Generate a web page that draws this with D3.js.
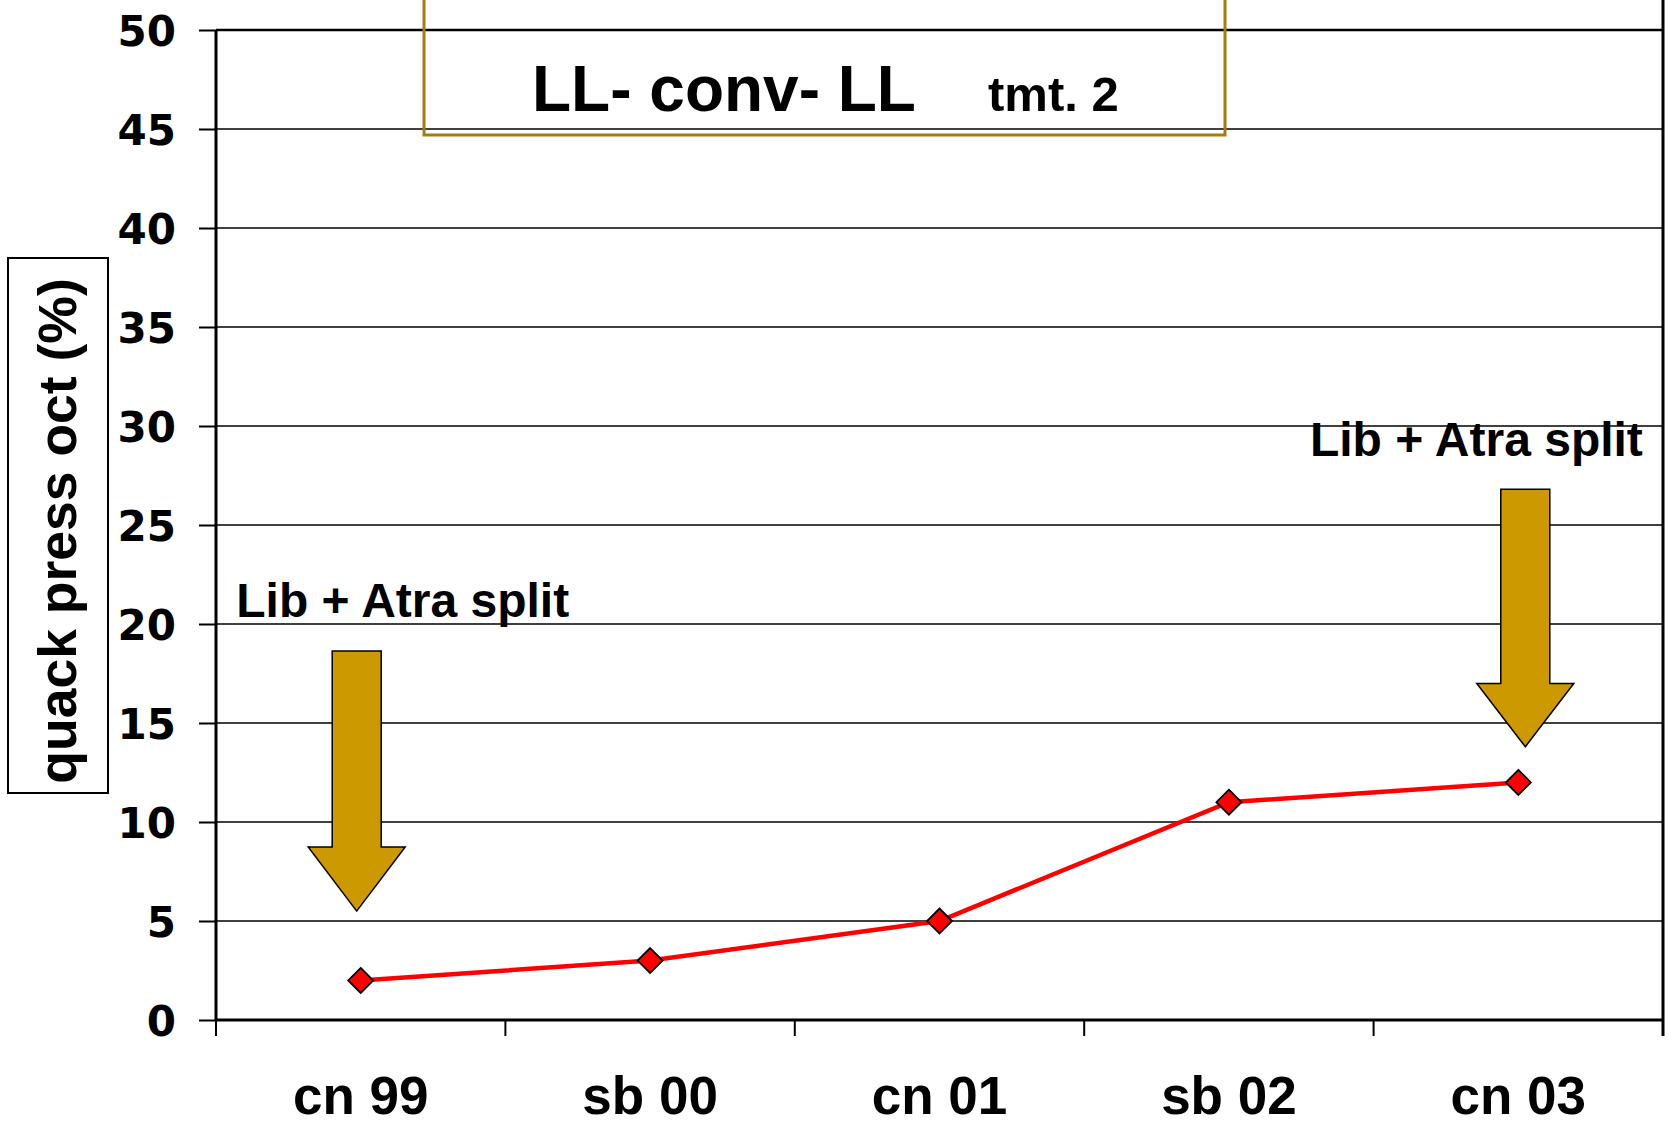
<!DOCTYPE html>
<html>
<head>
<meta charset="utf-8">
<script src="https://cdn.jsdelivr.net/npm/d3@7"></script>
<style>
  html, body { margin: 0; padding: 0; background: #fff; overflow: hidden; }
  svg { display: block; }
</style>
</head>
<body>
<svg id="chart" width="1669" height="1124"></svg>
<script>
// ---- data ----
const categories = ["cn 99", "sb 00", "cn 01", "sb 02", "cn 03"];
const values = [2, 3, 5, 11, 12];
const yTicks = [0, 5, 10, 15, 20, 25, 30, 35, 40, 45, 50];
const yLabel = "quack press oct (%)";
const titleMain = "LL- conv- LL";
const titleSub = "tmt. 2";
const annotations = [
  { cat: "cn 99", text: "Lib + Atra split", textY: 20.35, textX: -0.43, top: 18.64, headStart: 8.74, tip: 5.5 },
  { cat: "cn 03", text: "Lib + Atra split", textY: 28.48, textX: -0.72, top: 26.8, headStart: 17.0, tip: 13.8 }
];

// ---- layout ----
const W = 1669, H = 1124;
const plot = { left: 216, right: 1663, top: 30, bottom: 1020 };
const svg = d3.select("#chart");
const font = "'Liberation Sans', Arial, Helvetica, sans-serif";

const x = d3.scaleBand().domain(categories).range([plot.left, plot.right]).padding(0);
const y = d3.scaleLinear().domain([0, 50]).range([plot.bottom, plot.top]);

// gridlines
svg.append("g").selectAll("line").data(yTicks.filter(d => d > 0)).join("line")
  .attr("x1", plot.left).attr("x2", plot.right)
  .attr("y1", d => y(d)).attr("y2", d => y(d))
  .attr("stroke", "#000").attr("stroke-width", d => d === 50 ? 2.5 : 1.6);

// y axis
const yAxis = svg.append("g").attr("transform", `translate(${plot.left},0)`)
  .call(d3.axisLeft(y).tickValues(yTicks).tickSize(17).tickPadding(23).tickFormat(d3.format("d")));
yAxis.select(".domain").attr("stroke", "#000").attr("stroke-width", 3).attr("d", `M0,${plot.top}V${plot.bottom}`);
yAxis.selectAll(".tick line").attr("stroke", "#000").attr("stroke-width", 2);
yAxis.selectAll(".tick text")
  .attr("fill", "#000")
  .style("font-family", "'DejaVu Sans', Verdana, sans-serif")
  .style("font-weight", "bold")
  .style("font-size", "42px")
  .attr("dy", "0.36em");

// x axis (ticks at band boundaries)
const bounds = categories.map(c => x(c)).concat([plot.right]);
svg.append("g").selectAll("line").data(bounds).join("line")
  .attr("x1", d => d).attr("x2", d => d)
  .attr("y1", plot.bottom).attr("y2", plot.bottom + 16)
  .attr("stroke", "#000").attr("stroke-width", 2);
svg.append("line")
  .attr("x1", plot.left - 1).attr("x2", plot.right + 1)
  .attr("y1", plot.bottom).attr("y2", plot.bottom)
  .attr("stroke", "#000").attr("stroke-width", 3);
// right border
svg.append("line")
  .attr("x1", plot.right).attr("x2", plot.right)
  .attr("y1", plot.top - 30).attr("y2", plot.bottom + 16)
  .attr("stroke", "#000").attr("stroke-width", 3);

svg.append("g").selectAll("text").data(categories).join("text")
  .attr("x", d => x(d) + x.bandwidth() / 2)
  .attr("y", 1114)
  .attr("text-anchor", "middle")
  .style("font-family", font).style("font-weight", "bold").style("font-size", "53px")
  .text(d => d);

// y label box
svg.append("rect").attr("x", 8).attr("y", 258).attr("width", 100).attr("height", 535)
  .attr("fill", "#fff").attr("stroke", "#000").attr("stroke-width", 2);
svg.append("text")
  .attr("transform", "translate(76,531) rotate(-90)")
  .attr("text-anchor", "middle")
  .style("font-family", font).style("font-weight", "bold").style("font-size", "53.5px")
  .text(yLabel);

// title box (top clipped)
svg.append("rect").attr("x", 424).attr("y", -100).attr("width", 801).attr("height", 235)
  .attr("fill", "none").attr("stroke", "#a87b10").attr("stroke-width", 3);
svg.append("text").attr("x", 532).attr("y", 111)
  .style("font-family", font).style("font-weight", "bold").style("font-size", "64px")
  .text(titleMain);
svg.append("text").attr("x", 988).attr("y", 111)
  .style("font-family", font).style("font-weight", "bold").style("font-size", "49px")
  .text(titleSub);

// annotations: arrows + text
const shaftW = 49, headW = 97;
annotations.forEach(a => {
  const cx = x(a.cat) + x.bandwidth() / 2 + (a.cat === "cn 99" ? -4 : 7);
  const pts = [
    [cx - shaftW / 2, y(a.top)], [cx + shaftW / 2, y(a.top)],
    [cx + shaftW / 2, y(a.headStart)], [cx + headW / 2, y(a.headStart)],
    [cx, y(a.tip)], [cx - headW / 2, y(a.headStart)],
    [cx - shaftW / 2, y(a.headStart)]
  ];
  svg.append("path")
    .attr("d", d3.line()(pts) + "Z")
    .attr("fill", "#cc9900").attr("stroke", "#000").attr("stroke-width", 1.5)
    .attr("stroke-linejoin", "miter");
  svg.append("text")
    .attr("x", x(a.cat) + x.bandwidth() * (0.5 + a.textX))
    .attr("y", y(a.textY))
    .style("font-family", font).style("font-weight", "bold").style("font-size", "48px")
    .text(a.text);
});

// data line
const pts = categories.map((c, i) => ({ cx: x(c) + x.bandwidth() / 2, cy: y(values[i]) }));
svg.append("path")
  .attr("d", d3.line().x(d => d.cx).y(d => d.cy)(pts))
  .attr("fill", "none").attr("stroke", "#ff0000").attr("stroke-width", 4.5);

svg.append("g").selectAll("path").data(pts).join("path")
  .attr("d", d => `M${d.cx},${d.cy - 12.5}L${d.cx + 12.5},${d.cy}L${d.cx},${d.cy + 12.5}L${d.cx - 12.5},${d.cy}Z`)
  .attr("fill", "#ff0000").attr("stroke", "#000").attr("stroke-width", 1.8);
</script>
</body>
</html>
